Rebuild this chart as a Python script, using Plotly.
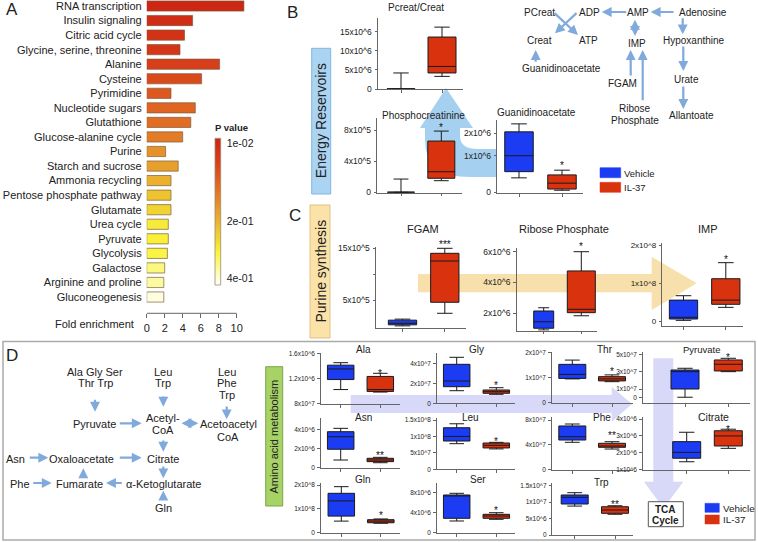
import plotly.graph_objects as go

W, H = 758, 542
FONT = "Liberation Sans, Arial, Helvetica, sans-serif"
TXT = "#222222"
AX = "#666666"
BLUE = "#1b3cf2"
RED = "#d9320f"
ARROW = "#80a9dc"

# ---------------- Panel A data ----------------
pathways = ["RNA transcription", "Insulin signaling", "Citric acid cycle",
            "Glycine, serine, threonine", "Alanine", "Cysteine", "Pyrimidine",
            "Nucleotide sugars", "Glutathione", "Glucose-alanine cycle", "Purine",
            "Starch and sucrose", "Ammonia recycling", "Pentose phosphate pathway",
            "Glutamate", "Urea cycle", "Pyruvate", "Glycolysis", "Galactose",
            "Arginine and proline", "Gluconeogenesis"]
fold_enrichment = [10.8, 5.1, 4.2, 3.7, 8.1, 6.1, 2.7, 5.4, 4.9, 4.0, 2.1,
                   3.5, 2.7, 2.7, 2.7, 2.4, 2.4, 2.3, 2.0, 1.9, 1.9]
p_values = [0.010, 0.030, 0.041, 0.049, 0.069, 0.088, 0.108, 0.127, 0.139, 0.158, 0.186,
            0.205, 0.228, 0.252, 0.275, 0.303, 0.310, 0.318, 0.345, 0.361, 0.388]
fold_ticks = [0, 2, 4, 6, 8, 10]
pval_tick_labels = ["1e-02", "2e-01", "4e-01"]

# ---------------- Box-plot data (B, C, D) ----------------
box_names = ["Pcreat/Creat", "Phosphocreatinine", "Guanidinoacetate", "FGAM",
             "Ribose Phosphate", "IMP", "Ala", "Gly", "Thr", "Asn", "Leu", "Phe",
             "Gln", "Ser", "Trp", "Pyruvate", "Citrate"]
veh_low = [0, 0, 0.49e6, 0, 0.92e6, 0.03e8, 1.02e6, 1.26e7, 0.94e7, 0.8e6, 0.78e8,
           4.38e7, 0.48e8, 2.26e6, 0.88e7, 0.05e7, 1.45e6]
veh_q1 = [0, 0, 0.70e6, 0.2e5, 1.03e6, 0.065e8, 1.18e6, 1.66e7, 0.96e7, 1.92e6, 0.86e8,
          4.75e7, 0.69e8, 2.8e6, 0.943e7, 1.0e7, 1.66e6]
veh_med = [0, 0, 1.24e6, 0.5e5, 1.45e6, 0.11e8, 1.35e6, 2.23e7, 1.12e7, 3.23e6, 1.0e8,
           5.29e7, 1.33e8, 7.26e6, 1.147e7, 3.0e7, 2.01e6]
veh_q3 = [0.05e6, 0.02e5, 2.05e6, 1.1e5, 2.15e6, 0.56e8, 1.41e6, 3.9e7, 1.52e7, 3.75e6, 1.265e8,
          7.03e7, 1.65e8, 7.46e6, 1.217e7, 3.19e7, 2.65e6]
veh_high = [4.2e6, 1.7e5, 2.32e6, 1.3e5, 2.36e6, 0.675e8, 1.45e6, 4.6e7, 1.69e7, 4.1e6, 1.385e8,
            7.35e7, 1.93e8, 7.8e6, 1.287e7, 3.39e7, 3.21e6]
il_low = [3.3e6, 1.49e5, 0.07e6, 2.43e5, 1.84e6, 0.37e8, 0.98e6, 0.9e7, 0.83e7, 0.52e6, 0.62e8,
          3.29e7, 0.39e8, 2.6e6, 0.63e7, 3.0e7, 2.25e6]
il_q1 = [4.2e6, 1.8e5, 0.11e6, 4.56e5, 2.04e6, 0.45e8, 0.99e6, 1.0e7, 0.86e7, 0.63e6, 0.65e8,
         3.57e7, 0.41e8, 2.8e6, 0.66e7, 3.08e7, 2.39e6]
il_med = [5.9e6, 2.64e5, 0.31e6, 12.54e5, 2.26e6, 0.56e8, 1.02e6, 1.16e7, 0.94e7, 0.8e6, 0.73e8,
          3.78e7, 0.48e8, 3.26e6, 0.76e7, 3.85e7, 2.99e6]
il_q3 = [13.6e6, 6.58e5, 0.59e6, 14.03e5, 4.75e6, 1.12e8, 1.23e6, 1.33e7, 1.03e7, 0.98e6, 0.8e8,
         4.22e7, 0.54e8, 3.6e6, 0.86e7, 4.35e7, 3.3e6]
il_high = [16.2e6, 7.86e5, 0.75e6, 15e5, 6.0e6, 1.54e8, 1.28e6, 1.56e7, 1.1e7, 1.08e6, 0.82e8,
           4.48e7, 0.57e8, 3.92e6, 0.89e7, 4.54e7, 3.39e6]
stars = ["", "*", "*", "***", "*", "*", "*", "*", "*", "**", "*", "**", "*", "*", "**", "*", "*"]
tick_vals = [[0, 5e6, 10e6, 15e6], [0, 4e5, 8e5], [0, 1.24e6, 2e6], [5e5, 10e5, 15e5],
             [2e6, 4e6, 6e6], [0, 1e8, 2e8], [0.8e6, 1.2e6, 1.6e6], [0, 2e7, 4e7],
             [0, 1e7, 2e7], [0, 2e6, 4e6], [0, 5e7, 1e8, 1.5e8], [0, 4e7, 8e7],
             [0, 1e8, 2e8], [0, 4e6, 8e6], [0, 5e6, 1e7, 1.5e7], [0, 1e7, 3e7, 5e7],
             [1e6, 2e6, 3e6, 4e6]]
tick_text = [["0", "5x10^6", "10x10^6", "15x10^6"], ["0", "4x10^5", "8x10^5"],
             ["0", "1x10^6", "2x10^6"], ["5x10^5", "", "15x10^5"],
             ["2x10^6", "4x10^6", "6x10^6"], ["0", "1x10^8", "2x10^8"],
             ["8x10^7", "1.2x10^6", "1.6x10^6"], ["0", "2x10^7", "4x10^7"],
             ["0", "1x10^7", "2x10^7"], ["0", "2x10^6", "4x10^6"],
             ["0", "5x10^7", "1x10^8", "1.5x10^8"], ["0", "4x10^7", "8x10^7"],
             ["0", "1x10^8", "2x10^8"], ["0", "4x10^6", "8x10^6"],
             ["0", "5x10^6", "1x10^7", "1.5x10^7"], ["0", "1x10^7", "3x10^7", "5x10^7"],
             ["1x10^6", "2x10^6", "3x10^6", "4x10^6"]]

# ---------------- geometry (pixels) ----------------
GEOM = [
    dict(x0=378, x1=463, ytop=18, ybot=89.3, cV=401, cI=442, bwV=28, bwI=28, va=0, pa=89, vb=15e6, pb=31.7, tx=416.5, ty=7.5, ts=10, ks=8.5, sy=0),
    dict(x0=377.3, x1=462, ytop=118, ybot=192.7, cV=401, cI=441.3, bwV=27, bwI=27, va=0, pa=192.3, vb=8e5, pb=130, tx=423, ty=115, ts=10, ks=8.5, sy=124.7),
    dict(x0=497.3, x1=583, ytop=120, ybot=193.3, cV=519, cI=562, bwV=28.5, bwI=28.5, va=0, pa=192.3, vb=2e6, pb=133.3, tx=536, ty=113, ts=10, ks=8.5, sy=163),
    dict(x0=376, x1=466, ytop=246.7, ybot=328.3, cV=402.5, cI=444.8, bwV=28.3, bwI=28.3, va=5e5, pa=300, vb=15e5, pb=248.3, tx=423, ty=229.3, ts=11, ks=8.5, sy=241.7),
    dict(x0=516.7, x1=597, ytop=248.3, ybot=330.7, cV=543.7, cI=581.3, bwV=20, bwI=28, va=2e6, pa=313.3, vb=6e6, pb=251.7, tx=564, ty=229.3, ts=11, ks=8.5, sy=244.3),
    dict(x0=662.3, x1=743.3, ytop=243.3, ybot=326, cV=683.5, cI=725.8, bwV=28.3, bwI=28.3, va=0, pa=321.5, vb=1e8, pb=283.3, tx=708.3, ty=229.3, ts=11, ks=8, sy=257.3),
    dict(x0=320.7, x1=400, ytop=353.3, ybot=404, cV=340.7, cI=380.3, bwV=26.5, bwI=26.5, va=1.2e6, pa=378.3, vb=1.6e6, pb=353.3, tx=363.3, ty=349.3, ts=10, ks=6.5, sy=370.7),
    dict(x0=436.7, x1=515, ytop=353.3, ybot=403.3, cV=456.7, cI=496.3, bwV=26.5, bwI=26.5, va=0, pa=403.3, vb=4e7, pb=363.3, tx=476, ty=349.3, ts=10, ks=6.5, sy=383.3),
    dict(x0=551.7, x1=633, ytop=351.7, ybot=403.3, cV=572.3, cI=612, bwV=27, bwI=27, va=0, pa=402.5, vb=2e7, pb=352.3, tx=605, ty=349.3, ts=10, ks=6.5, sy=369.3),
    dict(x0=320.7, x1=400, ytop=418.3, ybot=468.3, cV=340.7, cI=380.3, bwV=26.5, bwI=26.5, va=0, pa=467.7, vb=4e6, pb=429.3, tx=363.3, ty=417.3, ts=10, ks=6.5, sy=452.7),
    dict(x0=436.7, x1=515, ytop=418.3, ybot=469.3, cV=456.7, cI=496.3, bwV=26.5, bwI=26.5, va=0, pa=469.3, vb=1.5e8, pb=420, tx=470, ty=417.3, ts=10, ks=6.5, sy=439.3),
    dict(x0=551.7, x1=633, ytop=416.7, ybot=470, cV=572.3, cI=612, bwV=27, bwI=27, va=0, pa=469.3, vb=8e7, pb=420, tx=601.7, ty=417.3, ts=10, ks=6.5, sy=433.3),
    dict(x0=320.7, x1=400, ytop=483.3, ybot=533.3, cV=341.3, cI=380.8, bwV=26.5, bwI=26.5, va=0, pa=532.5, vb=2e8, pb=485, tx=363.3, ty=479.3, ts=10, ks=6.5, sy=513.3),
    dict(x0=436.7, x1=515, ytop=483.3, ybot=533.3, cV=456.7, cI=496.3, bwV=26.5, bwI=26.5, va=0, pa=532.3, vb=8e6, pb=492.3, tx=477.7, ty=479.3, ts=10, ks=6.5, sy=508.3),
    dict(x0=552.3, x1=633, ytop=483.3, ybot=535, cV=574.7, cI=615, bwV=27, bwI=27, va=0, pa=535, vb=1.5e7, pb=485.7, tx=601, ty=482.7, ts=10, ks=6.5, sy=501.7),
    dict(x0=642.7, x1=750, ytop=351.7, ybot=403.3, cV=685, cI=728.3, bwV=28, bwI=28, va=1e7, pa=389, vb=5e7, pb=354.3, tx=701.7, ty=349.3, ts=9.5, ks=6.5, sy=355),
    dict(x0=642.7, x1=750, ytop=416.7, ybot=470, cV=686.7, cI=728.3, bwV=28, bwI=28, va=1e6, pa=469.3, vb=4e6, pb=419, tx=713.3, ty=417.3, ts=10.5, ks=6.5, sy=426.7),
]


def fx(x):
    return x / W


def fy(y):
    return 1 - y / H


annotations = []
shapes = []


def text(x, y, s, size=10, bold=False, anchor="center", angle=0, color=TXT):
    if bold:
        s = "<b>" + s + "</b>"
    annotations.append(dict(x=fx(x), y=fy(y), xref="paper", yref="paper", text=s,
                            showarrow=False, xanchor=anchor, yanchor="middle",
                            textangle=angle, font=dict(size=size, color=color, family=FONT)))


def arrow(x0, y0, x1, y1, both=False, width=2.2, color=ARROW, size=0.9):
    a = dict(x=fx(x1), y=fy(y1), xref="paper", yref="paper", ax=x0 - x1, ay=y0 - y1,
             axref="pixel", ayref="pixel", text="", showarrow=True, arrowhead=2,
             arrowsize=size, arrowwidth=width, arrowcolor=color, standoff=0)
    if both:
        a.update(arrowside="end+start", startarrowhead=2, startarrowsize=size, startstandoff=0)
    annotations.append(a)


def rect(x0, y0, x1, y1, fill, line, lw=1.0, layer="above"):
    shapes.append(dict(type="rect", xref="paper", yref="paper", x0=fx(x0), x1=fx(x1),
                       y0=fy(y1), y1=fy(y0), fillcolor=fill,
                       line=dict(color=line, width=lw), layer=layer))


def path(cmds, fill, layer="below"):
    parts = []
    for c in cmds:
        pts = c[1:]
        coords = ["%.5f,%.5f" % (fx(pts[i]), fy(pts[i + 1])) for i in range(0, len(pts), 2)]
        parts.append(c[0] + " " + " ".join(coords))
    shapes.append(dict(type="path", xref="paper", yref="paper", path=" ".join(parts) + " Z",
                       fillcolor=fill, line=dict(width=0), layer=layer))


fig = go.Figure()
layout = {}

# ---------------- Panel A ----------------
CS = [[0.0, "rgb(205,38,18)"], [0.15, "rgb(215,62,25)"], [0.3, "rgb(224,100,34)"],
      [0.5, "rgb(232,160,44)"], [0.68, "rgb(240,212,50)"], [0.78, "rgb(250,243,60)"],
      [0.9, "rgb(252,250,160)"], [1.0, "rgb(255,255,250)"]]
fig.add_trace(go.Bar(x=fold_enrichment, y=pathways, orientation="h", width=0.7,
                     marker=dict(color=p_values, colorscale=CS, cmin=0.01, cmax=0.4,
                                 line=dict(color="rgba(120,90,60,0.85)", width=0.8)),
                     showlegend=False, hoverinfo="skip", xaxis="x", yaxis="y"))
layout["xaxis"] = dict(domain=[fx(146.7), fx(245.7)], range=[0, 11], anchor="y",
                       tickvals=fold_ticks, ticks="outside", ticklen=4, tickcolor=AX,
                       showline=False, showgrid=False, zeroline=False, automargin=False,
                       tickfont=dict(size=11, color=TXT))
layout["yaxis"] = dict(domain=[fy(313.3), 1], range=[21.12, -0.412], anchor="x",
                       type="category", categoryorder="array", categoryarray=pathways,
                       ticks="", showline=False, showgrid=False, zeroline=False,
                       automargin=False, ticklabelstandoff=4,
                       tickfont=dict(size=11, color=TXT))
shapes.append(dict(type="line", xref="x", yref="paper", x0=0, x1=10, y0=fy(313.3),
                   y1=fy(313.3), line=dict(color=AX, width=1)))
text(136, 324, "Fold enrichment", size=11, anchor="right")

# colour bar (drawn as a heatmap so the low p values sit at the top)
ramp = [0.01 + i * 0.39 / 59 for i in range(60)]
half = 0.39 / 59 / 2
cb_top, cb_bot = ramp[0] - half, ramp[-1] + half
fig.add_trace(go.Heatmap(z=[[v] for v in ramp], x=[0], y=ramp, colorscale=CS,
                         zmin=0.01, zmax=0.4, showscale=False, hoverinfo="skip",
                         xaxis="x2", yaxis="y2"))


def cbval(ypx):
    return cb_top + (ypx - 138.3) / (285 - 138.3) * (cb_bot - cb_top)


layout["xaxis2"] = dict(domain=[fx(215), fx(220.7)], range=[-0.5, 0.5], anchor="y2",
                        showticklabels=False, ticks="", showgrid=False, zeroline=False,
                        automargin=False)
layout["yaxis2"] = dict(domain=[fy(285), fy(138.3)], range=[cb_bot, cb_top], anchor="x2",
                        side="right", tickvals=[cbval(143.3), cbval(221.7), cbval(278.3)],
                        ticktext=pval_tick_labels, ticks="", ticklabelstandoff=5,
                        showgrid=False, zeroline=False, automargin=False,
                        tickfont=dict(size=10.5, color=TXT))
rect(215, 138.3, 220.7, 285, "rgba(0,0,0,0)", "#9a8a70", 0.8)
text(231, 127.3, "P value", size=9.5, bold=True)
text(12, 10, "A", size=17)

# ---------------- background arrows ----------------
path([("M", 446, 88), ("L", 473, 128), ("L", 460, 128), ("L", 460, 136),
      ("Q", 460, 149, 478, 149), ("L", 497, 149), ("L", 497, 177), ("L", 470, 177),
      ("Q", 425, 177, 425, 140), ("L", 425, 128), ("L", 420, 128)], "rgb(166,208,240)")
path([("M", 418, 274), ("L", 651.7, 274), ("L", 651.7, 256.7), ("L", 696.7, 283.2),
      ("L", 651.7, 310), ("L", 651.7, 292.3), ("L", 418, 292.3)], "rgba(246,218,158,0.85)")
path([("M", 350.7, 395), ("L", 611.7, 395), ("L", 611.7, 386.7), ("L", 632, 404),
      ("L", 611.7, 421.7), ("L", 611.7, 413), ("L", 350.7, 413)], "rgba(178,178,242,0.5)")
path([("M", 653.3, 358.3), ("L", 673.3, 358.3), ("L", 673.3, 481.7), ("L", 683.3, 481.7),
      ("L", 663.5, 508.3), ("L", 644, 481.7), ("L", 653.3, 481.7)], "rgba(178,178,242,0.5)")

# ---------------- box panels ----------------
for k, name in enumerate(box_names):
    g = GEOM[k]
    n = k + 3
    xa, ya = "x%d" % n, "y%d" % n
    unit = g["cI"] - g["cV"]
    xr = [(g["x0"] - g["cV"]) / unit, (g["x1"] - g["cV"]) / unit]
    s = (g["pb"] - g["pa"]) / (g["vb"] - g["va"])
    yr = [g["va"] + (g["ybot"] - g["pa"]) / s, g["va"] + (g["ytop"] - g["pa"]) / s]
    layout["xaxis%d" % n] = dict(domain=[fx(g["x0"]), fx(g["x1"])], range=xr, anchor=ya,
                                 showline=True, linecolor=AX, linewidth=1, ticks="outside",
                                 ticklen=2.5, tickcolor=AX, tickvals=[0, 1],
                                 showticklabels=False, showgrid=False, zeroline=False,
                                 automargin=False)
    layout["yaxis%d" % n] = dict(domain=[fy(g["ybot"]), fy(g["ytop"])], range=yr, anchor=xa,
                                 showline=True, linecolor=AX, linewidth=1, ticks="outside",
                                 ticklen=2.5, tickcolor=AX, tickvals=tick_vals[k],
                                 ticktext=tick_text[k], ticklabelstandoff=1,
                                 tickfont=dict(size=g["ks"], color=TXT),
                                 showgrid=False, zeroline=False, automargin=False)
    groups = [(0, [veh_low[k], veh_q1[k], veh_med[k], veh_q3[k], veh_high[k]], BLUE, g["bwV"]),
              (1, [il_low[k], il_q1[k], il_med[k], il_q3[k], il_high[k]], RED, g["bwI"])]
    for pos, st, col, bw in groups:
        fig.add_trace(go.Box(x=[pos], lowerfence=[st[0]], q1=[st[1]], median=[st[2]],
                             q3=[st[3]], upperfence=[st[4]], width=bw / unit,
                             fillcolor=col, line=dict(color="#1a1a1a", width=1),
                             whiskerwidth=0.55, boxpoints=False, hoverinfo="skip",
                             showlegend=False, xaxis=xa, yaxis=ya))
    text(g["tx"], g["ty"], name, size=g["ts"])
    if stars[k]:
        text(g["cI"], g["sy"] + 2.5, stars[k], size=10, color="#111")

# ---------------- Panel B labels / pathway ----------------
text(292, 12, "B", size=17)
rect(311.7, 48.3, 330.7, 194, "rgb(170,212,242)", "rgb(130,182,222)", 1)
text(321.2, 121, "Energy Reservoirs", size=14, angle=-90)
for (x, y, s) in [(539, 12.7, "PCreat"), (589, 12.7, "ADP"), (638, 12.7, "AMP"),
                  (703, 12.7, "Adenosine"), (539, 40.7, "Creat"), (588, 40, "ATP"),
                  (637, 43.3, "IMP"), (694, 40, "Hypoxanthine"),
                  (561, 69, "Guanidinoacetate"), (622, 83.3, "FGAM"), (686, 79, "Urate"),
                  (635, 108.3, "Ribose"), (635, 120, "Phosphate"), (691, 115, "Allantoate")]:
    text(x, y, s, size=10)
arrow(627.7, 12, 601.7, 12)
arrow(675, 12, 650.7, 12)
arrow(635, 18.3, 635, 36, both=True)
arrow(682.7, 16.7, 682.7, 34.3)
arrow(683.3, 45, 683.3, 71)
arrow(683.3, 85, 683.3, 109)
arrow(630.7, 77, 630.7, 50)
arrow(642.7, 101.7, 642.7, 50)
arrow(535.7, 63.3, 535.7, 50)
arrow(553, 11.7, 578, 35)
arrow(578, 11.7, 555, 33.3)
rect(600, 167.7, 620.7, 177.7, BLUE, BLUE, 0.5)
rect(600, 182.3, 620.7, 192.3, RED, RED, 0.5)
text(622, 173, "Vehicle", size=9.5, anchor="left")
text(622, 187, "IL-37", size=9.5, anchor="left")

# ---------------- Panel C ----------------
text(295, 215, "C", size=17)
rect(310, 205, 330, 338, "rgb(250,226,168)", "rgb(225,195,130)", 1)
text(320, 271.5, "Purine synthesis", size=14, angle=-90)

# ---------------- Panel D ----------------
rect(3, 341.5, 755, 540, "rgba(0,0,0,0)", "#aaaaaa", 1.5, layer="below")
text(12, 355, "D", size=17)
for (x, y, s) in [(95, 371.7, "Ala Gly Ser"), (95, 383.3, "Thr Trp"),
                  (163.3, 371.7, "Leu"), (163.3, 383.3, "Trp"),
                  (226.7, 371.7, "Leu"), (226.7, 383.3, "Phe"), (226.7, 395, "Trp"),
                  (94.3, 424.3, "Pyruvate"), (163.3, 418.3, "Acetyl-"), (163.3, 430, "CoA"),
                  (228.3, 424.3, "Acetoacetyl"), (228.3, 436.7, "CoA"),
                  (15, 459, "Asn"), (81.7, 459, "Oxaloacetate"), (163.3, 459, "Citrate"),
                  (20, 484, "Phe"), (79, 484, "Fumarate"), (163.3, 484, "α-Ketoglutarate"),
                  (163.3, 507.7, "Gln")]:
    text(x, y, s, size=11)
arrow(95, 398.3, 95, 411.7)
arrow(163.3, 395, 163.3, 406.7)
arrow(226.7, 405, 226.7, 419.3)
arrow(118.3, 423.3, 141.7, 423.3)
arrow(180, 423.3, 198.3, 423.3, both=True)
arrow(163.3, 439, 163.3, 451.7)
arrow(28.3, 457.7, 48.3, 457.7)
arrow(118.3, 457.7, 141.7, 457.7)
arrow(163.3, 465, 163.3, 478.3)
arrow(31.7, 483, 51.7, 483)
arrow(123.3, 483, 106, 483)
arrow(83.3, 478.3, 83.3, 468.3)
arrow(163.3, 501, 163.3, 490.7)
rect(265.7, 366.7, 282.7, 506, "rgb(166,210,102)", "rgb(125,165,75)", 1)
text(274.2, 436.3, "Amino acid metabolism", size=11, angle=-90)
rect(648.3, 501.7, 683.3, 526.7, "white", "#555555", 1)
text(665.8, 509.3, "TCA", size=10, bold=True)
text(665.8, 520.7, "Cycle", size=10, bold=True)
rect(705, 503.3, 719.3, 512.3, BLUE, BLUE, 0.5)
rect(705, 515, 719.3, 524, RED, RED, 0.5)
text(720.5, 508, "Vehicle", size=9.8, anchor="left")
text(720.5, 519.5, "IL-37", size=9.8, anchor="left")

fig.update_layout(width=W, height=H, autosize=False,
                  margin=dict(l=0, r=0, t=0, b=0, pad=0, autoexpand=False),
                  paper_bgcolor="white", plot_bgcolor="rgba(0,0,0,0)",
                  font=dict(family=FONT, color=TXT), showlegend=False,
                  boxmode="overlay", annotations=annotations, shapes=shapes, **layout)
fig.write_html("out.html", config={"displayModeBar": False},
               post_script="document.body.style.margin='0';document.body.style.padding='0';")
